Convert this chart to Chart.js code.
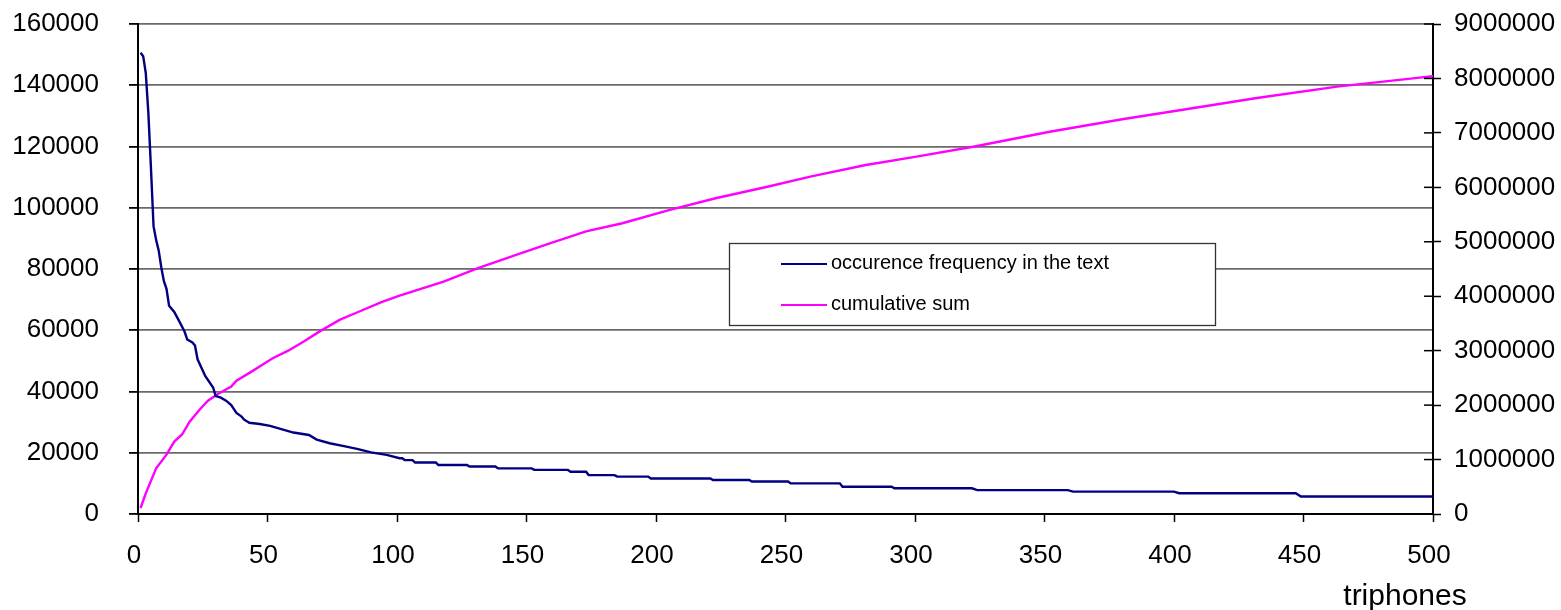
<!DOCTYPE html>
<html>
<head>
<meta charset="utf-8">
<script src="https://cdn.jsdelivr.net/npm/chart.js@4.4.1/dist/chart.umd.min.js"></script>
<style>
  html, body { margin: 0; padding: 0; background: #fff; }
  #wrap { width: 1561px; height: 610px; position: relative; }
</style>
</head>
<body>
<div id="wrap"><canvas id="triphoneChart"></canvas></div>
<script>
const FONT = "'Liberation Sans', Arial, sans-serif";

// occurence frequency per triphone rank (left axis)
const freqRank = [1, 2, 3, 4, 5, 6, 7, 8, 9, 10, 11, 12, 14, 16, 18, 19, 21, 22, 23, 26, 29, 30, 32, 34, 36, 38, 40, 41, 43, 47, 51, 55, 60, 66, 69, 74, 80, 85, 90, 96,
  101, 102, 103, 106, 107, 115, 116, 127, 128, 138, 139, 152, 153, 166, 167, 173, 174, 184, 185, 197, 198, 221, 222, 236, 237, 251, 252, 271, 272, 291, 292, 322, 324, 359, 361, 400, 402, 447, 449, 500];
const freqCount = [150600, 149500, 144000, 131000, 113000, 94000, 89500, 86000, 80500, 76000, 73500, 68000, 66000, 62800, 59500, 57000, 56000, 55000, 50500, 45000, 41300, 38500, 38000, 37000, 35600, 33000, 31800, 30800, 29800, 29400, 28800, 27800, 26600, 25800, 24300, 23100, 22100, 21200, 20100, 19300,
  18200, 18200, 17600, 17600, 16800, 16800, 16000, 16000, 15500, 15500, 14900, 14900, 14400, 14400, 13800, 13800, 12700, 12700, 12200, 12200, 11600, 11600, 11100, 11100, 10600, 10600, 10000, 10000, 8900, 8900, 8400, 8400, 7800, 7800, 7300, 7300, 6800, 6800, 5700, 5700];

// cumulative sum (right axis)
const cumRank = [1, 3, 7, 11, 14, 17, 20, 24, 27, 31, 36, 38, 44, 48, 52, 58, 64, 70, 78, 85, 94, 101, 118, 131, 146, 159, 173, 187, 205, 223, 243, 260, 281, 300, 323, 352, 380, 404, 432, 463, 494, 500];
const cumCount = [110000, 380000, 840000, 1090000, 1330000, 1460000, 1700000, 1930000, 2080000, 2210000, 2340000, 2450000, 2620000, 2740000, 2860000, 3000000, 3170000, 3350000, 3570000, 3710000, 3890000, 4010000, 4270000, 4510000, 4760000, 4970000, 5190000, 5340000, 5580000, 5800000, 6010000, 6200000, 6410000, 6560000, 6750000, 7020000, 7250000, 7430000, 7640000, 7850000, 8010000, 8040000];

const seriesLabels = ['occurence frequency in the text', 'cumulative sum'];
const xTitle = 'triphones';

const toPoints = (xs, ys) => xs.map((x, i) => ({ x: x, y: ys[i] }));

// right axis has ticks crossing the axis line
const innerTicks = {
  id: 'innerTicks',
  afterDraw(chart) {
    const s = chart.scales.y2;
    const ctx = chart.ctx;
    ctx.save();
    ctx.strokeStyle = '#000';
    ctx.lineWidth = 1.5;
    s.ticks.forEach(t => {
      const y = s.getPixelForValue(t.value);
      ctx.beginPath();
      ctx.moveTo(s.left - 9, y);
      ctx.lineTo(s.left, y);
      ctx.stroke();
    });
    ctx.restore();
  }
};

// boxed legend inside the plot + axis title at the right end
const boxLegend = {
  id: 'boxLegend',
  afterDraw(chart) {
    const ctx = chart.ctx;
    ctx.save();
    ctx.fillStyle = '#fff';
    ctx.fillRect(729, 243, 487, 83);
    ctx.strokeStyle = '#333';
    ctx.lineWidth = 1.3;
    ctx.strokeRect(729.5, 243.5, 486, 82);
    ctx.font = '20px ' + FONT;
    ctx.textBaseline = 'middle';
    chart.data.datasets.forEach((ds, i) => {
      const y = 264 + i * 41;
      ctx.strokeStyle = ds.borderColor;
      ctx.lineWidth = 2;
      ctx.beginPath();
      ctx.moveTo(781, y);
      ctx.lineTo(827, y);
      ctx.stroke();
      ctx.fillStyle = '#000';
      ctx.fillText(ds.label, 831, y - 1);
    });
    ctx.font = '30px ' + FONT;
    ctx.textAlign = 'center';
    ctx.textBaseline = 'alphabetic';
    ctx.fillText(xTitle, 1405, 605);
    ctx.restore();
  }
};

function fixWidth(w) {
  return s => {
    s.width = w;
    s.paddingTop = 0;
    s.paddingBottom = 0;
  };
}

new Chart(document.getElementById('triphoneChart'), {
  type: 'line',
  data: {
    datasets: [{
      label: seriesLabels[0],
      data: toPoints(freqRank, freqCount),
      yAxisID: 'y',
      borderColor: '#000080',
      borderWidth: 2.4,
      pointRadius: 0,
      tension: 0
    }, {
      label: seriesLabels[1],
      data: toPoints(cumRank, cumCount),
      yAxisID: 'y2',
      borderColor: '#ff00ff',
      borderWidth: 2.4,
      pointRadius: 0,
      tension: 0
    }]
  },
  options: {
    responsive: true,
    maintainAspectRatio: false,
    animation: false,
    layout: { padding: { top: 24, left: 0, right: 0, bottom: 0 } },
    plugins: { legend: { display: false }, tooltip: { enabled: false } },
    font: { family: FONT },
    scales: {
      x: {
        type: 'linear',
        position: 'bottom',
        min: 0,
        max: 500,
        ticks: { stepSize: 50, color: '#000', font: { family: FONT, size: 26 }, padding: 18, labelOffset: -4, maxRotation: 0, autoSkip: false },
        grid: { drawOnChartArea: false, tickLength: 8, tickColor: '#000', tickWidth: 1.5 },
        border: { color: '#000', width: 2 },
        afterFit(s) {
          s.height = 96;
          s.paddingLeft = 0;
          s.paddingRight = 0;
        }
      },
      y: {
        position: 'left',
        min: 0,
        max: 160000,
        ticks: { stepSize: 20000, color: '#000', font: { family: FONT, size: 26 }, padding: 30, callback: v => String(v) },
        grid: {
          color: ctx => ctx.tick && ctx.tick.value === 0 ? '#000' : '#6a6a6a',
          lineWidth: 1.8,
          tickColor: '#000',
          tickLength: 9
        },
        border: { color: '#000', width: 2 },
        afterFit: fixWidth(138)
      },
      y2: {
        position: 'right',
        min: 0,
        max: 9000000,
        ticks: { stepSize: 1000000, color: '#000', font: { family: FONT, size: 26 }, padding: 13, callback: v => String(v) },
        grid: { drawOnChartArea: false, tickLength: 8, tickColor: '#000', tickWidth: 1.5 },
        border: { color: '#000', width: 2 },
        afterFit: fixWidth(128)
      }
    }
  },
  plugins: [innerTicks, boxLegend]
});
</script>
</body>
</html>
